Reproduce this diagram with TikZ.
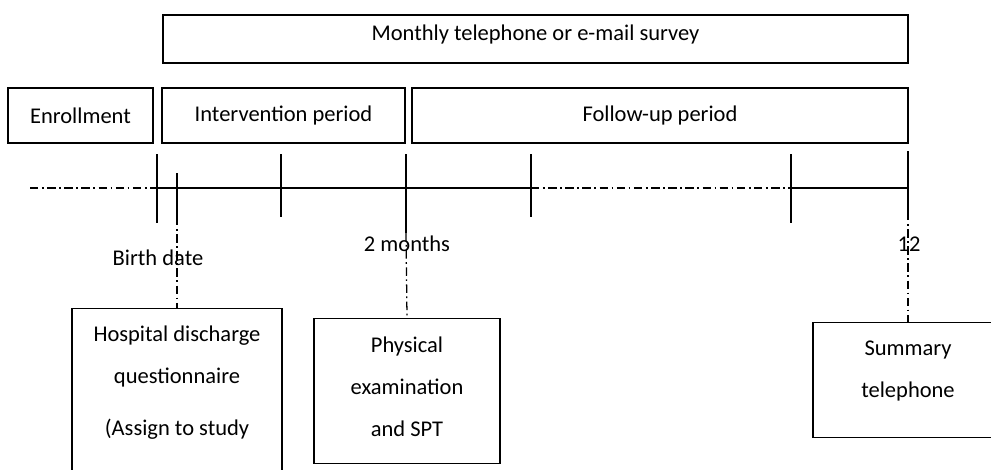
\documentclass[tikz,border=0pt]{standalone}
\usepackage{fontspec}
\setmainfont{Carlito}
\begin{document}
\begin{tikzpicture}[x=0.025cm,y=-0.025cm,
	box/.style={draw,line width=0.9pt,inner sep=0pt,font=\fontsize{16}{19}\selectfont},
	lbl/.style={inner sep=0pt,font=\fontsize{16}{19}\selectfont},
	lines/.style={inner sep=0pt,align=center,font=\fontsize{16}{29.8}\selectfont},
	axis/.style={line width=0.9pt},
	dashdot/.style={line width=0.9pt,dash pattern=on 6pt off 2.5pt on 1.2pt off 2.5pt}]
	\useasboundingbox (0,0) rectangle (991,469);
	\clip (0,0) rectangle (991,469);
	% periods
	\node[box,minimum width=745*0.025cm,minimum height=48*0.025cm,text depth=9pt] (survey) at (535.5,39) {Monthly telephone or e-mail survey};
	\node[box,minimum width=145*0.025cm,minimum height=55*0.025cm] (enroll) at (80.5,115.5) {Enrollment};
	\node[box,minimum width=243*0.025cm,minimum height=55*0.025cm] (interv) at (283.5,115.5) {Intervention period};
	\node[box,minimum width=496*0.025cm,minimum height=55*0.025cm] (follow) at (660,115.5) {Follow-up period};
	% time line
	\foreach \n/\x/\a/\b in {k1/157/154/223, k2/177/173/217, k3/281/154/217, k4/406/154/233, k5/531/154/217, k6/791/154/223, k7/908/151/212} {
		\coordinate (\n-top) at (\x,\a);
		\coordinate (\n) at (\x,\b);
		\coordinate (\n-mid) at (\x,188);
		\draw[axis] (\n-top) -- (\n);
	}
	\coordinate (start) at (30,188);
	\draw[dashdot] (start) -- (k1-mid);
	\draw[axis] (k1-mid) -- (k5-mid);
	\draw[dashdot] (k5-mid) -- (k6-mid);
	\draw[axis] (k6-mid) -- (k7-mid);
	\node[lbl] (birth) at (158,258) {Birth date};
	\node[lbl] (twomonths) at (407,244) {2 months};
	\node[lbl] (twelve) at (909,244) {12};
	% visits
	\node[box,minimum width=210*0.025cm,minimum height=200*0.025cm,anchor=north] (hosp) at (177,308) {};
	\node[lines,anchor=north] (hosptext) at (177,326) {Hospital discharge\\questionnaire\\[7pt](Assign to study};
	\node[box,minimum width=186*0.025cm,minimum height=145*0.025cm,anchor=north] (phys) at (407,318) {};
	\node[lines,anchor=north] (phystext) at (407,337) {Physical\\examination\\and SPT};
	\node[box,minimum width=190*0.025cm,minimum height=115*0.025cm,anchor=north] (summ) at (908,322) {};
	\node[lines,anchor=north] (summtext) at (908,341) {Summary\\telephone};
	\draw[dashdot] (k2) -- (hosp.north);
	\draw[dashdot] (k4) -- (phys.north);
	\draw[dashdot] (k7) -- (summ.north);
\end{tikzpicture}
\end{document}
